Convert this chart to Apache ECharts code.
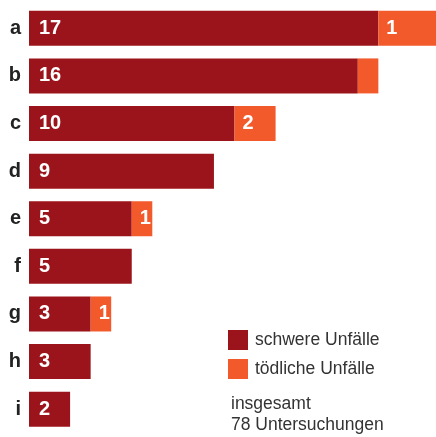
<!DOCTYPE html>
<html>
<head>
<meta charset="utf-8">
<script src="https://cdn.jsdelivr.net/npm/echarts@6/dist/echarts.min.js"></script>
<style>
  html, body { margin: 0; padding: 0; background: #fff; }
  #chart { width: 436px; height: 437px; }
</style>
</head>
<body>
<div id="chart"></div>
<script>
// Kategorien und Werte
var categories = ['a', 'b', 'c', 'd', 'e', 'f', 'g', 'h', 'i'];
var schwere = [17, 16, 10, 9, 5, 5, 3, 3, 2];
var toedliche = [3, 1, 2, 0, 1, 0, 1, 0, 0];
// Beschriftungen der orangen Segmente, wie im Original
var toedlicheLabels = ['1', '', '2', '', '1', '', '1', '', ''];
var seriesNames = ['schwere Unfälle', 'tödliche Unfälle'];
var noteLines = ['insgesamt', '78 Untersuchungen'];

var fontFamily = '"Liberation Sans", Arial, sans-serif';

var chart = echarts.init(document.getElementById('chart'));

var option = {
  animation: false,
  color: ['#9c141b', '#f25a2c'],
  grid: {
    left: 29,
    top: 4.5,
    width: 411,
    height: 428.5,
    outerBoundsMode: 'none'
  },
  xAxis: {
    type: 'value',
    min: 0,
    max: 20,
    show: false
  },
  yAxis: {
    type: 'category',
    inverse: true,
    data: categories,
    axisLine: { show: false },
    axisTick: { show: false },
    axisLabel: {
      margin: 8,
      color: '#222',
      fontFamily: fontFamily,
      fontWeight: 'bold',
      fontSize: 20
    }
  },
  legend: {
    orient: 'vertical',
    left: 228,
    top: 330,
    padding: 0,
    itemWidth: 20,
    itemHeight: 20,
    itemGap: 9,
    icon: 'rect',
    selectedMode: false,
    data: seriesNames,
    textStyle: {
      color: '#333',
      fontFamily: fontFamily,
      fontSize: 17.5,
      padding: [0, 0, 0, 2]
    }
  },
  graphic: [{
    type: 'text',
    left: 231,
    top: 394,
    style: {
      text: noteLines.join('\n'),
      fill: '#333',
      font: '17.5px ' + fontFamily,
      lineHeight: 21
    }
  }],
  series: [
    {
      name: seriesNames[0],
      type: 'bar',
      stack: 'gesamt',
      barWidth: 35,
      data: schwere,
      label: {
        show: true,
        position: 'insideLeft',
        distance: 10,
        color: '#fff',
        fontFamily: fontFamily,
        fontWeight: 'bold',
        fontSize: 20
      }
    },
    {
      name: seriesNames[1],
      type: 'bar',
      stack: 'gesamt',
      barWidth: 35,
      data: toedliche,
      label: {
        show: true,
        position: 'insideLeft',
        distance: 8,
        color: '#fff',
        fontFamily: fontFamily,
        fontWeight: 'bold',
        fontSize: 20,
        formatter: function (p) {
          return toedlicheLabels[p.dataIndex];
        }
      }
    }
  ]
};

chart.setOption(option);
</script>
</body>
</html>
